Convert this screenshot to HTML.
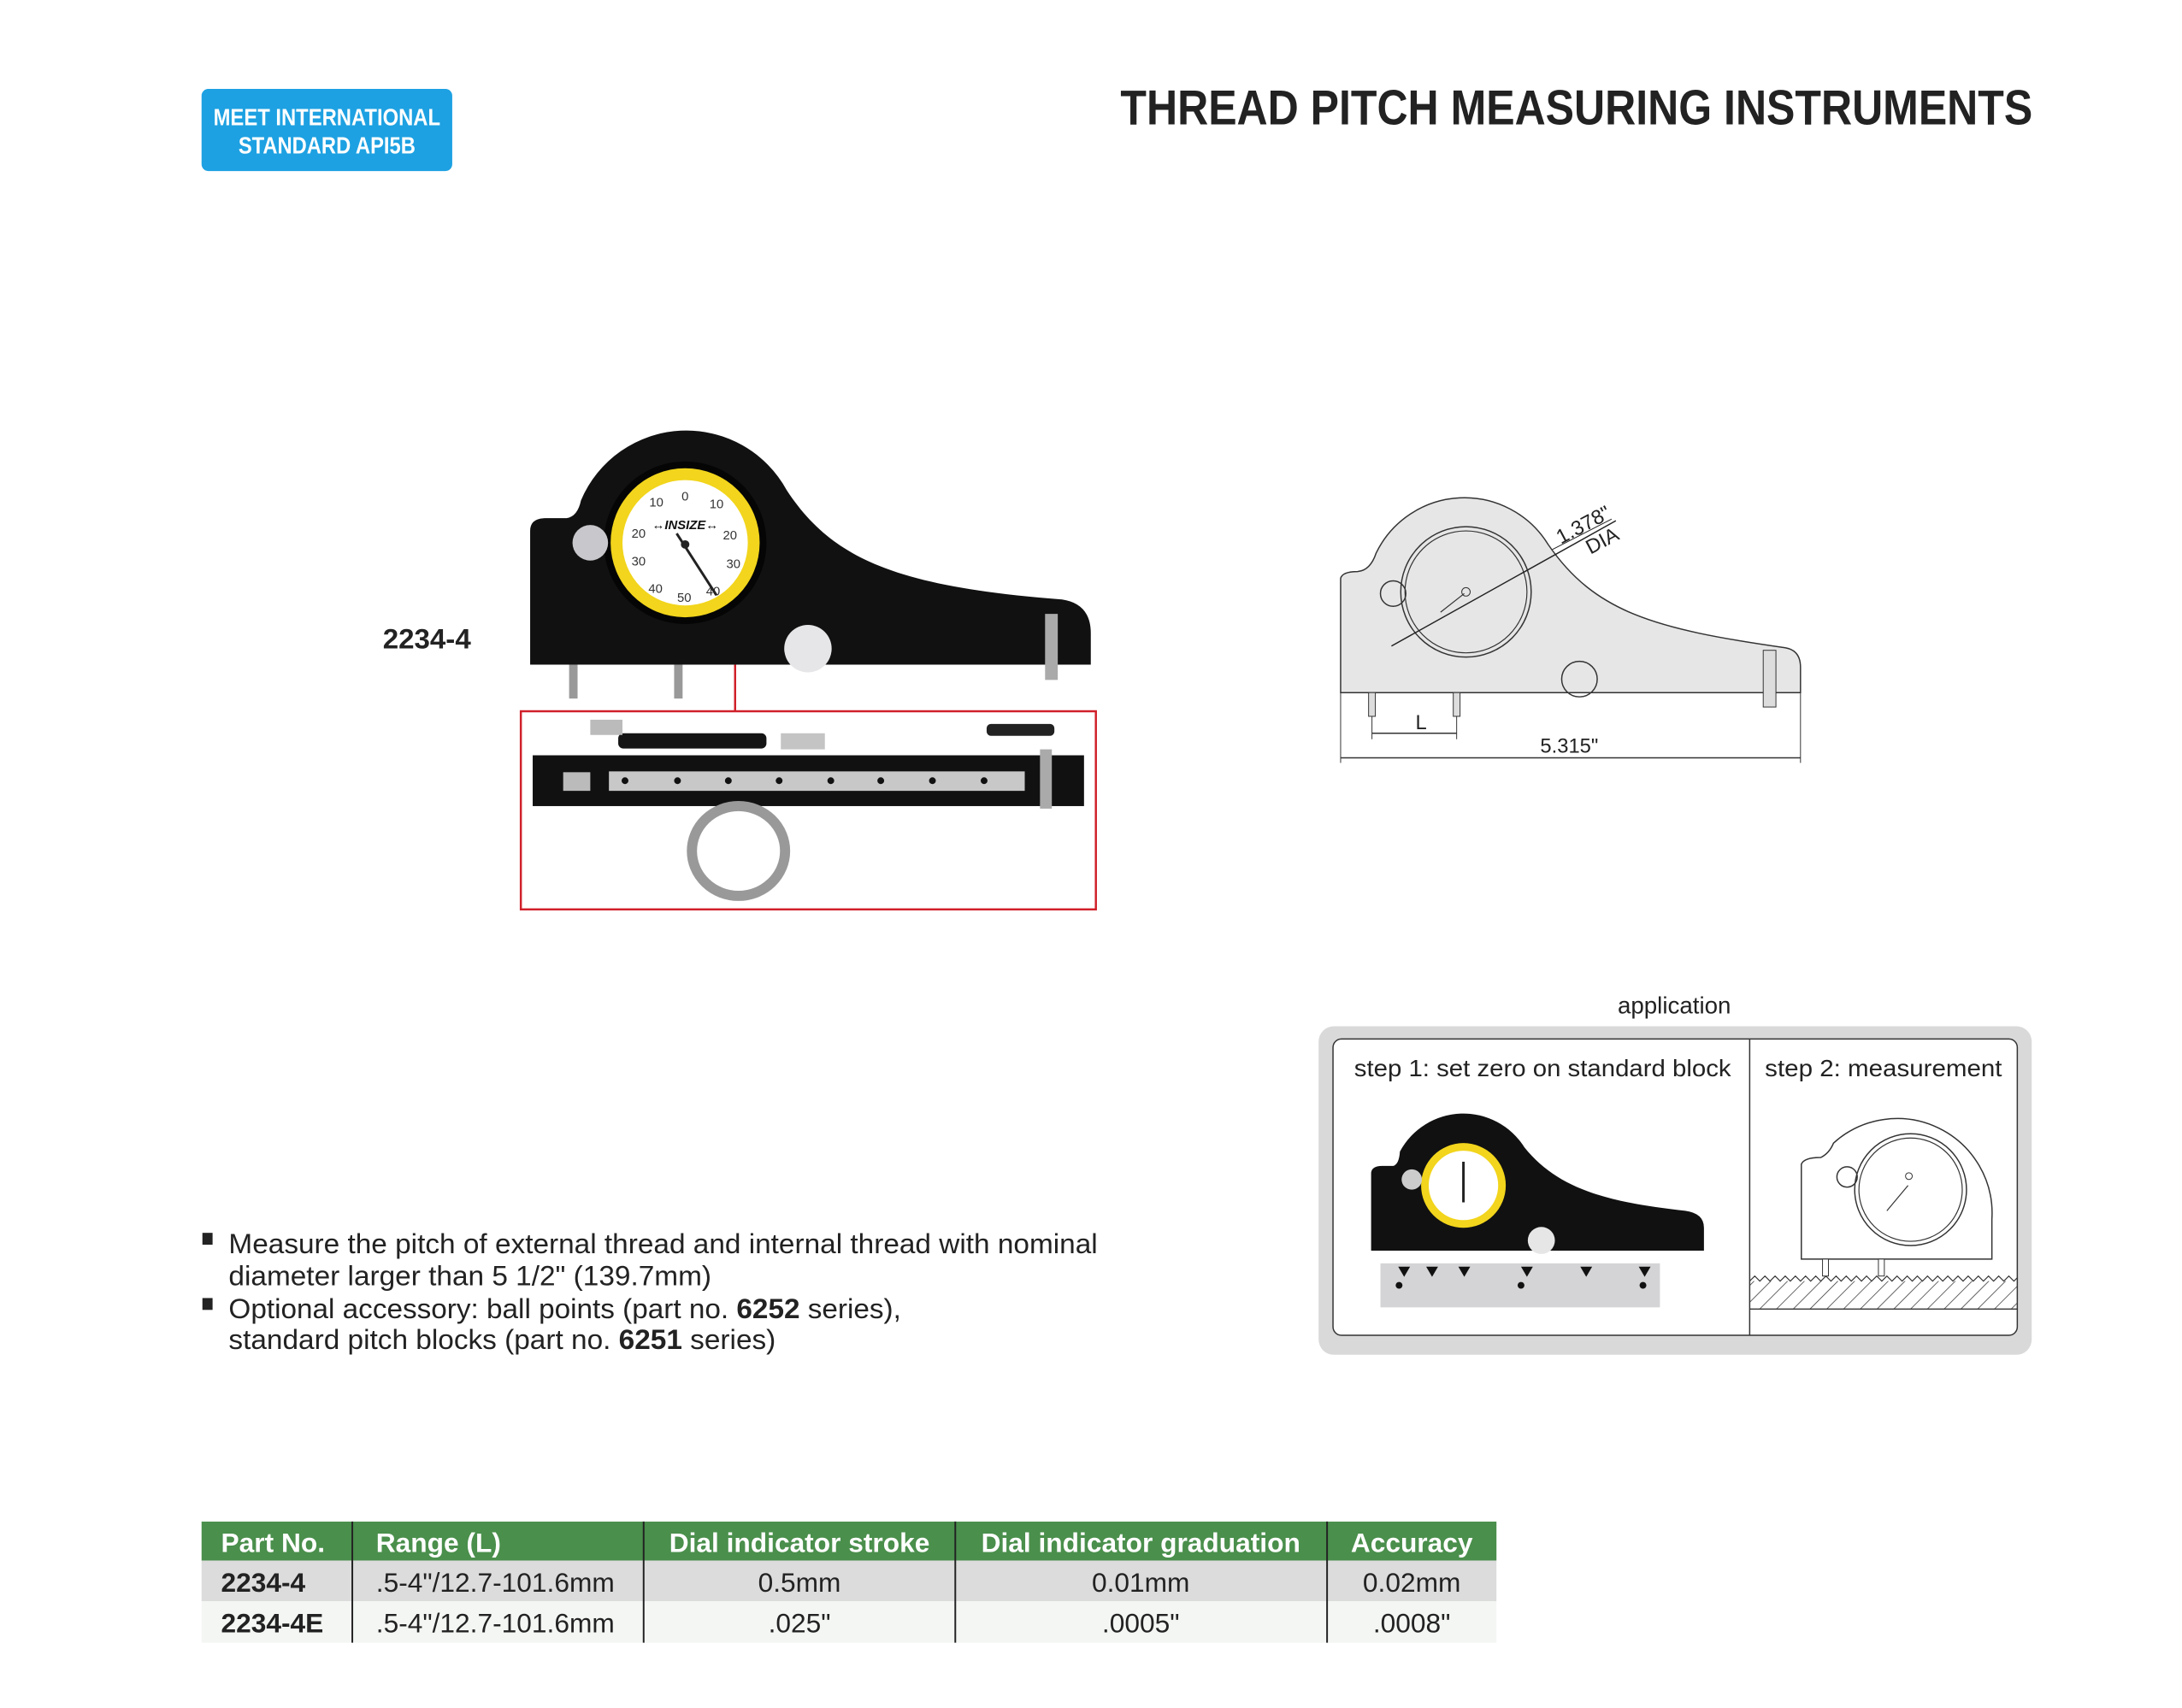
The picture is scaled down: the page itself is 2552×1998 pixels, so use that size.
<!DOCTYPE html>
<html><head><meta charset="utf-8"><style>
html,body{margin:0;padding:0;background:#fff;}
svg{display:block;font-family:"Liberation Sans",sans-serif;}
</style></head><body>
<svg width="2552" height="1998" viewBox="0 0 2552 1998" xmlns="http://www.w3.org/2000/svg">
<defs>
<pattern id="hatch" width="14" height="14" patternUnits="userSpaceOnUse" patternTransform="rotate(45)">
<line x1="0" y1="0" x2="0" y2="14" stroke="#333" stroke-width="1.5"/></pattern>
<clipPath id="c2"><rect x="2066" y="1490" width="316" height="80"/></clipPath>
</defs>
<g transform="scale(0.9905)">
<!-- badge -->
<rect x="238" y="105" width="296" height="97" rx="8" fill="#1da1e2"/>
<text x="386" y="148" text-anchor="middle" font-size="28" font-weight="bold" fill="#fff" textLength="268" lengthAdjust="spacingAndGlyphs">MEET INTERNATIONAL</text>
<text x="386" y="181" text-anchor="middle" font-size="28" font-weight="bold" fill="#fff" textLength="209" lengthAdjust="spacingAndGlyphs">STANDARD API5B</text>
<!-- title -->
<text x="2400" y="147" text-anchor="end" font-size="58" font-weight="bold" fill="#222" textLength="1077" lengthAdjust="spacingAndGlyphs">THREAD PITCH MEASURING INSTRUMENTS</text>

<!-- photo instrument -->
<g transform="translate(4,3)">
<path d="M622,782 L622,624 Q622,609 640,609 L665,609 Q678,607 682,588 A135,135 0 0 1 925,576 C980,660 1060,690 1250,705 Q1284,710 1284,745 L1284,782 Z" fill="#111"/>
<circle cx="805" cy="638" r="96" fill="#050505"/>
<circle cx="805" cy="638" r="88" fill="#f2d51c"/>
<circle cx="805" cy="638" r="74" fill="#fff"/>
<g font-size="15" fill="#333" text-anchor="middle">
<text x="771" y="595">10</text><text x="805" y="588">0</text><text x="842" y="597">10</text>
<text x="750" y="632">20</text><text x="858" y="634">20</text>
<text x="750" y="665">30</text><text x="862" y="668">30</text>
<text x="770" y="697">40</text><text x="804" y="708">50</text><text x="838" y="700">40</text>
</g>
<text x="805" y="622" text-anchor="middle" font-size="15" font-weight="bold" font-style="italic" fill="#111">↔INSIZE↔</text>
<line x1="795" y1="627" x2="842" y2="700" stroke="#222" stroke-width="3"/>
<circle cx="805" cy="640" r="5" fill="#222"/>
<circle cx="693" cy="638" r="21" fill="#c8c8cc"/>
<circle cx="950" cy="763" r="28" fill="#e6e6e8"/>
<rect x="668" y="782" width="10" height="40" fill="#999"/>
<rect x="792" y="782" width="10" height="40" fill="#999"/>
<rect x="1230" y="722" width="15" height="78" fill="#aaa"/>
</g>
<line x1="868" y1="785" x2="868" y2="840" stroke="#d0202a" stroke-width="2.5"/>
<rect x="615" y="840" width="679" height="234" fill="none" stroke="#d0202a" stroke-width="2.5"/>
<!-- accessory -->
<rect x="730" y="866" width="175" height="18" rx="6" fill="#151515"/>
<rect x="697" y="850" width="38" height="18" fill="#bbb"/>
<rect x="922" y="866" width="52" height="19" fill="#c4c4c4"/>
<rect x="1165" y="855" width="80" height="14" rx="5" fill="#222"/>
<rect x="629" y="892" width="651" height="60" fill="#111"/>
<rect x="719" y="911" width="491" height="23" fill="#c8c8c8"/>
<rect x="665" y="912" width="32" height="22" fill="#bbb"/>
<g fill="#111"><circle cx="738" cy="922" r="4"/><circle cx="800" cy="922" r="4"/><circle cx="860" cy="922" r="4"/><circle cx="920" cy="922" r="4"/><circle cx="981" cy="922" r="4"/><circle cx="1040" cy="922" r="4"/><circle cx="1101" cy="922" r="4"/><circle cx="1162" cy="922" r="4"/></g>
<rect x="1228" y="885" width="14" height="70" fill="#aaa"/>
<ellipse cx="872" cy="1005" rx="55" ry="53" fill="none" stroke="#999" stroke-width="12"/>
<text x="452" y="766" font-size="33" font-weight="bold" fill="#222" textLength="104" lengthAdjust="spacingAndGlyphs">2234-4</text>

<!-- technical drawing -->
<g transform="translate(13,3)">
<path d="M1570,815 L1570,680 Q1572,672 1590,672 Q1605,671 1612,650 A116,116 0 0 1 1815,640 C1870,720 1940,740 2095,762 Q2113,765 2113,785 L2113,815 Z" fill="#e6e6e6" stroke="#333" stroke-width="1.5"/>
<circle cx="1718" cy="696" r="77" fill="none" stroke="#333" stroke-width="1.5"/>
<circle cx="1718" cy="696" r="72" fill="none" stroke="#333" stroke-width="1.2"/>
<circle cx="1718" cy="696" r="5" fill="none" stroke="#333"/>
<line x1="1688" y1="720" x2="1716" y2="698" stroke="#333" stroke-width="1.2"/>
<circle cx="1632" cy="698" r="15" fill="none" stroke="#333" stroke-width="1.5"/>
<circle cx="1852" cy="799" r="21" fill="none" stroke="#333" stroke-width="1.5"/>
<rect x="2069" y="765" width="15" height="67" fill="#ddd" stroke="#333"/>
<line x1="1630" y1="760" x2="1895" y2="612" stroke="#222" stroke-width="1.5"/>
<line x1="1820" y1="646" x2="1890" y2="610" stroke="#222"/>
<text transform="translate(1830,640) rotate(-28)" font-size="24" fill="#222">1.378"</text>
<text transform="translate(1865,652) rotate(-28)" font-size="24" fill="#222">DIA</text>
<rect x="1603" y="815" width="8" height="28" fill="#ddd" stroke="#333"/>
<rect x="1703" y="815" width="8" height="28" fill="#ddd" stroke="#333"/>
<line x1="1607" y1="843" x2="1607" y2="870" stroke="#333"/>
<line x1="1707" y1="843" x2="1707" y2="870" stroke="#333"/>
<line x1="1607" y1="863" x2="1707" y2="863" stroke="#333" stroke-width="1.5"/>
<text x="1665" y="858" text-anchor="middle" font-size="24" fill="#222">L</text>
<line x1="1570" y1="815" x2="1570" y2="898" stroke="#333"/>
<line x1="2113" y1="815" x2="2113" y2="898" stroke="#333"/>
<line x1="1570" y1="892" x2="2113" y2="892" stroke="#333" stroke-width="1.5"/>
<text x="1840" y="886" text-anchor="middle" font-size="24" fill="#222">5.315"</text>
</g>

<!-- application -->
<text x="1977" y="1197" text-anchor="middle" font-size="28" fill="#222">application</text>
<rect x="1557" y="1212" width="842" height="388" rx="18" fill="#d9d9d9"/>
<rect x="1574" y="1227" width="808" height="350" rx="10" fill="#fff" stroke="#333" stroke-width="1.5"/>
<line x1="2066" y1="1227" x2="2066" y2="1577" stroke="#333" stroke-width="1.5"/>
<text x="1599" y="1271" font-size="28" fill="#222" textLength="445" lengthAdjust="spacingAndGlyphs">step 1: set zero on standard block</text>
<text x="2084" y="1271" font-size="28" fill="#222" textLength="280" lengthAdjust="spacingAndGlyphs">step 2: measurement</text>
<!-- step1 photo -->
<rect x="1630" y="1492" width="330" height="52" fill="#d4d4d6"/>
<path d="M1619,1477 L1619,1385 Q1620,1377 1632,1377 L1645,1377 Q1652,1375 1653,1360 A85,85 0 0 1 1800,1355 C1840,1405 1900,1420 1990,1430 Q2012,1433 2012,1450 L2012,1477 Z" fill="#111"/>
<circle cx="1728" cy="1400" r="50" fill="#f2d51c"/>
<circle cx="1728" cy="1400" r="41" fill="#fff"/>
<line x1="1728" y1="1372" x2="1728" y2="1420" stroke="#222" stroke-width="3"/>
<circle cx="1667" cy="1393" r="12" fill="#ccc"/>
<circle cx="1820" cy="1465" r="16" fill="#e6e6e6"/>
<g fill="#111"><path d="M1651,1496 h14 l-7,12z"/><path d="M1684,1496 h14 l-7,12z"/><path d="M1722,1496 h14 l-7,12z"/><path d="M1796,1496 h14 l-7,12z"/><path d="M1866,1496 h14 l-7,12z"/><path d="M1935,1496 h14 l-7,12z"/>
<circle cx="1652" cy="1518" r="4"/><circle cx="1796" cy="1518" r="4"/><circle cx="1940" cy="1518" r="4"/></g>
<!-- step2 drawing -->
<g clip-path="url(#c2)">
<rect x="2066" y="1513" width="316" height="33" fill="url(#hatch)"/>
<path d="M2066,1513 l6,-6 l6,6 l6,-6 l6,6 l6,-6 l6,6 l6,-6 l6,6 l6,-6 l6,6 l6,-6 l6,6 l6,-6 l6,6 l6,-6 l6,6 l6,-6 l6,6 l6,-6 l6,6 l6,-6 l6,6 l6,-6 l6,6 l6,-6 l6,6 l6,-6 l6,6 l6,-6 l6,6 l6,-6 l6,6 l6,-6 l6,6 l6,-6 l6,6 l6,-6 l6,6 l6,-6 l6,6 l6,-6 l6,6 l6,-6 l6,6 l6,-6 l6,6 l6,-6 l6,6 l6,-6 l6,6 l6,-6 l6,6 l6,-6 l6,6 l6,-6 l6,6 l6,-6 l6,6" fill="none" stroke="#333" stroke-width="1.2"/>
</g>
<line x1="2066" y1="1546" x2="2382" y2="1546" stroke="#333" stroke-width="1.5"/>
<path d="M2127,1487 L2127,1375 Q2130,1367 2150,1367 Q2160,1362 2165,1350 A112,112 0 0 1 2352,1440 L2352,1487 Z" fill="#fff" stroke="#333" stroke-width="1.5"/>
<circle cx="2256" cy="1405" r="66" fill="none" stroke="#333" stroke-width="1.5"/>
<circle cx="2256" cy="1405" r="61" fill="none" stroke="#333" stroke-width="1.2"/>
<line x1="2228" y1="1430" x2="2253" y2="1400" stroke="#333" stroke-width="1.2"/>
<circle cx="2254" cy="1389" r="4" fill="none" stroke="#333"/>
<circle cx="2181" cy="1390" r="12" fill="none" stroke="#333" stroke-width="1.5"/>
<rect x="2152" y="1487" width="7" height="20" fill="#fff" stroke="#333"/>
<rect x="2218" y="1487" width="7" height="20" fill="#fff" stroke="#333"/>

<!-- bullets -->
<g font-size="33" fill="#222">
<rect x="239" y="1456" width="12" height="14" fill="#222"/>
<text x="270" y="1480" textLength="1026" lengthAdjust="spacingAndGlyphs">Measure the pitch of external thread and internal thread with nominal</text>
<text x="270" y="1518" textLength="570" lengthAdjust="spacingAndGlyphs">diameter larger than 5 1/2" (139.7mm)</text>
<rect x="239" y="1533" width="12" height="14" fill="#222"/>
<text x="270" y="1557" textLength="794" lengthAdjust="spacingAndGlyphs">Optional accessory: ball points (part no. <tspan font-weight="bold">6252</tspan> series),</text>
<text x="270" y="1593" textLength="646" lengthAdjust="spacingAndGlyphs">standard pitch blocks (part no. <tspan font-weight="bold">6251</tspan> series)</text>
</g>

<!-- table -->
<rect x="238" y="1797" width="1529" height="46" fill="#4a8f4c"/>
<rect x="238" y="1843" width="1529" height="48" fill="#dcdcdc"/>
<rect x="238" y="1891" width="1529" height="49" fill="#f3f6f3"/>
<g stroke="#222" stroke-width="2"><line x1="416" y1="1797" x2="416" y2="1940"/><line x1="760" y1="1797" x2="760" y2="1940"/><line x1="1128" y1="1797" x2="1128" y2="1940"/><line x1="1567" y1="1797" x2="1567" y2="1940"/></g>
<g font-size="32" font-weight="bold" fill="#fff">
<text x="261" y="1833">Part No.</text><text x="444" y="1833">Range (L)</text>
<text x="944" y="1833" text-anchor="middle">Dial indicator stroke</text>
<text x="1347" y="1833" text-anchor="middle">Dial indicator graduation</text>
<text x="1667" y="1833" text-anchor="middle">Accuracy</text></g>
<g font-size="32" fill="#222">
<text x="261" y="1880" font-weight="bold">2234-4</text><text x="444" y="1880">.5-4"/12.7-101.6mm</text>
<text x="944" y="1880" text-anchor="middle">0.5mm</text><text x="1347" y="1880" text-anchor="middle">0.01mm</text><text x="1667" y="1880" text-anchor="middle">0.02mm</text>
<text x="261" y="1928" font-weight="bold">2234-4E</text><text x="444" y="1928">.5-4"/12.7-101.6mm</text>
<text x="944" y="1928" text-anchor="middle">.025"</text><text x="1347" y="1928" text-anchor="middle">.0005"</text><text x="1667" y="1928" text-anchor="middle">.0008"</text>
</g>
</g>
</svg>
</body></html>
